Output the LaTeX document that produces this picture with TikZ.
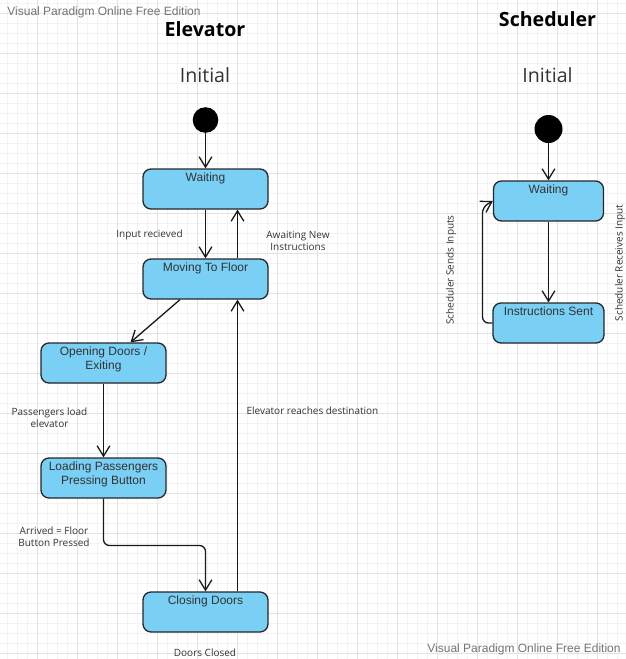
\documentclass[tikz,border=0pt]{standalone}
\usepackage{fontspec}
\setmainfont{Liberation Sans}
\newfontfamily\osans{Open Sans}
\usetikzlibrary{arrows.meta}
\definecolor{stateblue}{RGB}{122,207,245}
\definecolor{gridmajor}{RGB}{226,226,226}
\definecolor{gridminor}{RGB}{243,243,243}
\begin{document}
\begin{tikzpicture}[x=0.5pt, y=-0.5pt,
  state/.style={draw=black!85, fill=stateblue, line width=0.65pt, rounded corners=4pt,
    minimum width=62.5pt, minimum height=20pt, inner sep=0pt},
  stext/.style={anchor=north, inner sep=1.8pt, align=center, text=black!80,
    font=\fontsize{6}{7}\selectfont},
  start/.style={circle, fill=black, inner sep=0pt},
  trans/.style={draw=black!90, line width=0.65pt, -{Straight Barb[length=5.2pt, width=6.4pt]}},
  elabel/.style={inner sep=0pt, align=center, text=black!80, font=\osans\fontsize{5}{6}\selectfont},
  title/.style={inner sep=0pt, font=\osans\bfseries\fontsize{9.8}{11}\selectfont},
  initial/.style={inner sep=0pt, text=black!80, font=\osans\fontsize{9.8}{11}\selectfont},
  wmark/.style={inner sep=0pt, text=black!55, font=\fontsize{6}{7}\selectfont}]
  \useasboundingbox (0,0) rectangle (626,659);
  % grid
  \foreach \x in {7,17,...,627} \draw[gridminor, line width=0.5pt] (\x,0) -- (\x,659);
  \foreach \y in {3,13,...,653} \draw[gridminor, line width=0.5pt] (0,\y) -- (626,\y);
  \foreach \x in {37,77,...,617} \draw[gridmajor, line width=0.5pt] (\x,0) -- (\x,659);
  \foreach \y in {13,53,...,653} \draw[gridmajor, line width=0.5pt] (0,\y) -- (626,\y);
  \node[wmark, anchor=west] (wmtop) at (7,12.5) {Visual Paradigm Online Free Edition};
  \node[wmark, anchor=east] (wmbot) at (621,649) {Visual Paradigm Online Free Edition};
  % elevator
  \node[title] (telev) at (205,29) {Elevator};
  \node[initial] (iniel) at (205,75) {Initial};
  \node[start, minimum size=12.8pt] (ei) at (205.5,120) {};
  \node[state, label={[stext]north:Waiting}] (ew) at (205.5,189) {};
  \node[state, label={[stext]north:Moving To Floor}] (mv) at (205.5,279) {};
  \node[state, label={[stext]north:{Opening Doors /\\Exiting}}] (op) at (103.5,363) {};
  \node[state, label={[stext]north:{Loading Passengers\\Pressing Button}}] (ld) at (103.5,478) {};
  \node[state, label={[stext]north:Closing Doors}] (cd) at (205.5,612) {};
  \draw[trans] (ei.south) -- (ew.north);
  \draw[trans] (ew.south) -- (mv.north);
  \draw[trans] ([xshift=16pt]mv.north) -- ([xshift=16pt]ew.south);
  \draw[trans] ([xshift=-12.75pt]mv.south) -- ([xshift=13.5pt]op.north);
  \draw[trans] (op.south) -- (ld.north);
  \draw[trans, rounded corners=3pt] (ld.south) -- (ld.south |- 0,545.5) -| (cd.north);
  \draw[trans] ([xshift=16pt]cd.north) -- ([xshift=16pt]mv.south);
  \node[elabel] (lin) at (149.5,235) {Input recieved};
  \node[elabel] (lawait) at (298,241) {Awaiting New\\Instructions};
  \node[elabel] (lpass) at (49.5,418) {Passengers load\\elevator};
  \node[elabel] (lreach) at (312.5,411) {Elevator reaches destination};
  \node[elabel] (larr) at (54,537) {Arrived = Floor\\Button Pressed};
  \node[elabel] (lclosed) at (205,653) {Doors Closed};
  % scheduler
  \node[title] (tsched) at (547.5,19) {Scheduler};
  \node[initial] (inisc) at (547.5,75) {Initial};
  \node[start, minimum size=14pt] (si) at (548.5,129) {};
  \node[state, minimum width=55pt, label={[stext]north:Waiting}] (sw) at (548.5,201) {};
  \node[state, minimum width=55.5pt, label={[stext]north:Instructions Sent}] (ss) at (548.5,323) {};
  \draw[trans] (si.south) -- (sw.north);
  \draw[trans] (sw.south) -- (ss.north);
  \draw[trans, rounded corners=3pt] (ss.west) -| (482.5,207) -- (sw.west);
  \node[elabel, rotate=90] (lsend) at (451,270) {Scheduler Sends Inputs};
  \node[elabel, rotate=90] (lrecv) at (620,263) {Scheduler Receives Input};
\end{tikzpicture}
\end{document}
